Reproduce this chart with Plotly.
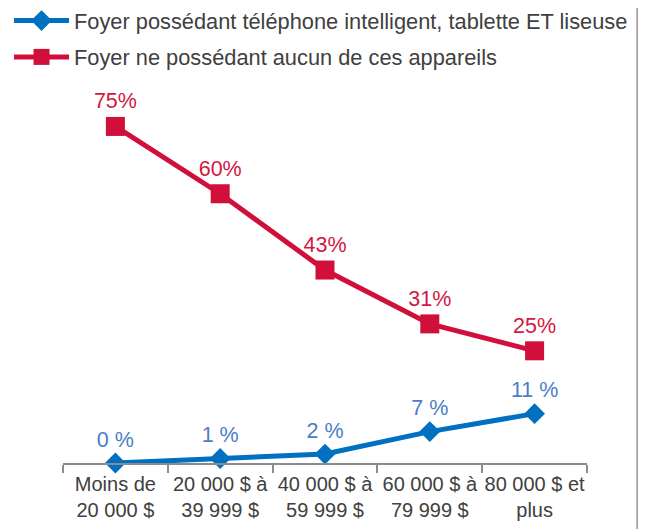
import plotly.graph_objects as go

categories = ["Moins de<br>20 000 $", "20 000 $ à<br>39 999 $", "40 000 $ à<br>59 999 $",
              "60 000 $ à<br>79 999 $", "80 000 $ et<br>plus"]
tous_appareils = [0, 1, 2, 7, 11]
aucun_appareil = [75, 60, 43, 31, 25]
labels_tous = ["0 %", "1 %", "2 %", "7 %", "11 %"]
labels_aucun = ["75%", "60%", "43%", "31%", "25%"]

FONT = "Liberation Sans, Arial, sans-serif"
blue = "#0070C0"
red = "#D0103A"

fig = go.Figure()

fig.add_trace(go.Scatter(
    x=categories, y=tous_appareils,
    name="Foyer possédant téléphone intelligent, tablette ET liseuse",
    mode="lines+markers+text",
    line=dict(color=blue, width=5),
    marker=dict(symbol="diamond", size=16, color=blue),
    text=labels_tous, textposition="top center",
    textfont=dict(family=FONT, size=21.5, color="#4A7EC8"),
    legendgroup="a", cliponaxis=False,
))

fig.add_trace(go.Scatter(
    x=categories, y=aucun_appareil,
    name="Foyer ne possédant aucun de ces appareils",
    mode="lines+markers+text",
    line=dict(color=red, width=5),
    marker=dict(symbol="square", size=19, color=red),
    text=labels_aucun, textposition="top center",
    textfont=dict(family=FONT, size=21.5, color="#D2183F"),
    legendgroup="b", cliponaxis=False,
))

# thin grey frame edge on the right
fig.add_shape(type="line", xref="paper", yref="paper",
              x0=1.097, x1=1.097, y0=-0.2, y1=1.35,
              line=dict(color="#A0A0A0", width=3))

# page body keeps its 8px default margin, so the figure is sized to fit the window
fig.update_layout(
    width=638, height=521,
    margin=dict(l=55, r=59, t=96, b=66, autoexpand=False),
    paper_bgcolor="white", plot_bgcolor="white",
    font=dict(family=FONT, size=20, color="#404040"),
    showlegend=True,
    legend=dict(x=-0.103, y=1.29, xanchor="left", yanchor="top",
                orientation="v", traceorder="grouped", tracegroupgap=5,
                font=dict(family=FONT, size=21.8, color="#404040"),
                itemwidth=55, bgcolor="rgba(0,0,0,0)"),
    xaxis=dict(
        range=[-0.5, 4.5],
        showline=True, linecolor="#8C8C8C", linewidth=2,
        ticks="outside", tickson="boundaries", ticklen=8, tickwidth=2,
        tickcolor="#8C8C8C", showgrid=False, zeroline=False,
        tickangle=0, automargin=False, ticklabelstandoff=2,
        tickfont=dict(family=FONT, size=20, color="#404040"),
    ),
    yaxis=dict(range=[0, 80], visible=False, showgrid=False, zeroline=False,
               automargin=False),
)

fig.write_html("out.html")
